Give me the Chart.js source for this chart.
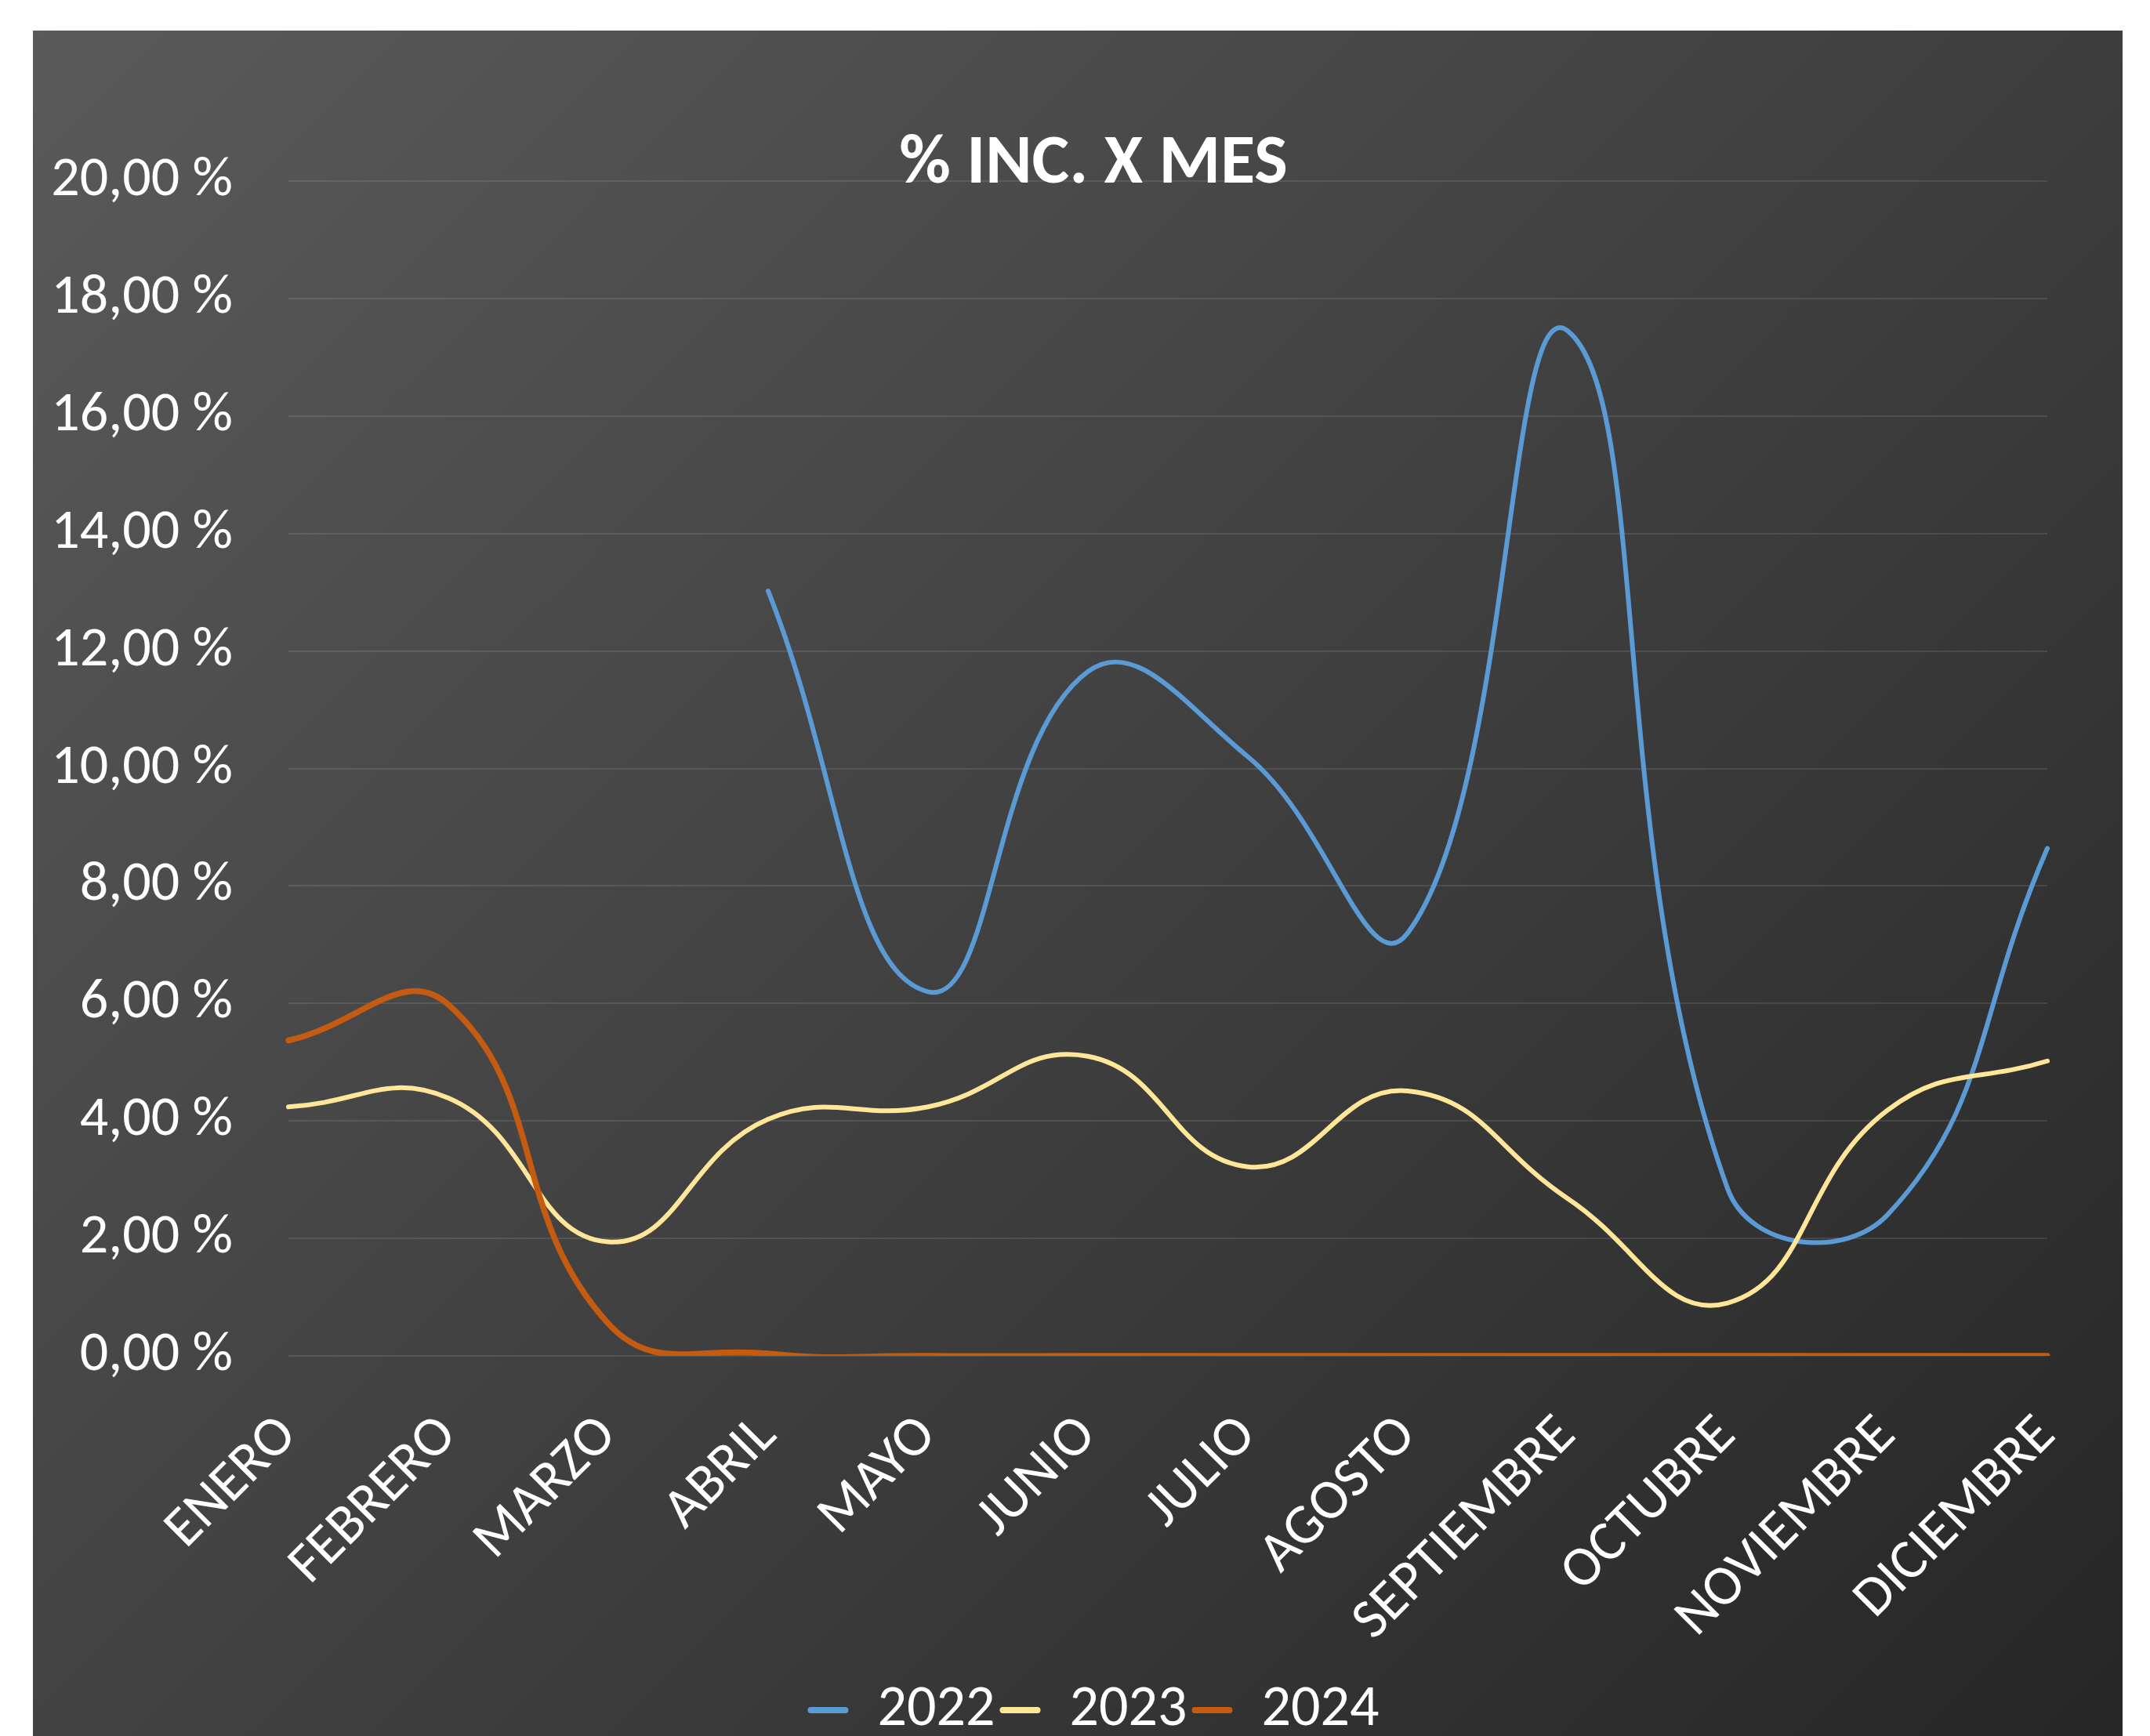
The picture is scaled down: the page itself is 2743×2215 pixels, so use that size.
<!DOCTYPE html>
<html lang="es">
<head>
<meta charset="utf-8">
<title>% INC. X MES</title>
<script src="https://cdn.jsdelivr.net/npm/chart.js@4.4.1/dist/chart.umd.min.js"></script>
<style>
  html, body { margin: 0; background: #fff; overflow: hidden; }
  #panel {
    position: absolute; left: 42px; top: 39px; width: 2666px; height: 2200px;
    background: linear-gradient(135deg, #5a5a5a 0%, #262626 100%);
  }
  #myChart { position: absolute; left: 42px; top: 39px; }
</style>
</head>
<body>
<div id="panel"></div>
<canvas id="myChart" width="2700" height="2200"></canvas>
<script>
// datos
const meses = ["ENERO", "FEBRERO", "MARZO", "ABRIL", "MAYO", "JUNIO", "JULIO",
  "AGOSTO", "SEPTIEMBRE", "OCTUBRE", "NOVIEMBRE", "DICIEMBRE"];
const inc2022 = [null, null, null, 13.02, 6.2, 11.65, 10.2, 7.2, 17.45, 2.85, 2.4, 8.64];
const inc2023 = [4.24, 4.39, 1.94, 4.03, 4.24, 5.1, 3.22, 4.51, 2.68, 0.9, 4.18, 5.02];
const inc2024 = [5.37, 5.98, 0.55, 0.04, 0, 0, 0, 0, 0, 0, 0, 0];
const yTicks = [0, 2, 4, 6, 8, 10, 12, 14, 16, 18, 20];

const fontFamily = "Carlito, Lato, 'Open Sans', sans-serif";

function serie(label, data, color, width, order) {
  return {
    label: label,
    data: data,
    borderColor: color,
    backgroundColor: color,
    borderWidth: width,
    borderCapStyle: "round",
    borderJoinStyle: "round",
    pointRadius: 0,
    tension: 0.45,
    capBezierPoints: false,
    order: order,
  };
}

const data = {
  labels: meses,
  datasets: [
    serie("2022", inc2022, "#5B9BD5", 6, 2),
    serie("2023", inc2023, "#FFE699", 6, 1),
    serie("2024", inc2024, "#C55A11", 7.5, 0),
  ],
};

const config = {
  type: "line",
  data: data,
  options: {
    responsive: false,
    animation: false,
    layout: { padding: { left: 19, right: 13, top: 0, bottom: 10 } },
    plugins: {
      title: {
        display: true,
        text: "% INC. X MES",
        color: "#fff",
        font: { family: fontFamily, size: 90, weight: "bold", lineHeight: 1.2 },
        padding: { top: 117, bottom: -33 },
      },
      legend: {
        position: "bottom",
        labels: {
          color: "#fff",
          font: { family: fontFamily, size: 74 },
          boxWidth: 52,
          boxHeight: 8,
          padding: 6,
          generateLabels: (chart) =>
            chart.data.datasets.map((ds, i) => ({
              text: ds.label,
              fillStyle: ds.borderColor,
              strokeStyle: ds.borderColor,
              lineWidth: 0,
              borderRadius: 4,
              fontColor: "#fff",
              hidden: !chart.isDatasetVisible(i),
              datasetIndex: i,
            })),
        },
      },
      tooltip: { enabled: false },
    },
    scales: {
      x: {
        offset: false,
        grid: { display: false },
        border: { display: false },
        ticks: {
          color: "#fff",
          font: { family: fontFamily, size: 72 },
          minRotation: 45,
          maxRotation: 45,
          autoSkip: false,
          padding: 52,
        },
        afterFit: (scale) => { scale.height = 409; },
      },
      y: {
        min: 0,
        max: 20,
        afterBuildTicks: (scale) => { scale.ticks = yTicks.map((v) => ({ value: v })); },
        ticks: {
          color: "#fff",
          font: { family: fontFamily, size: 72 },
          padding: 71,
          callback: (v) => v.toFixed(2).replace(".", ",") + " %",
        },
        grid: { color: "rgba(255,255,255,0.1)", lineWidth: 2, drawTicks: false },
        border: { display: false },
        afterFit: (scale) => { scale.width = 307; },
      },
      // empty space on the right, keeps title and legend centred like the original
      margen: {
        type: "linear",
        position: "right",
        grid: { display: false },
        border: { display: false },
        ticks: { display: false },
        afterFit: (scale) => { scale.width = 117; },
      },
    },
  },
};

const myChart = new Chart(document.getElementById("myChart"), config);
</script>
</body>
</html>
